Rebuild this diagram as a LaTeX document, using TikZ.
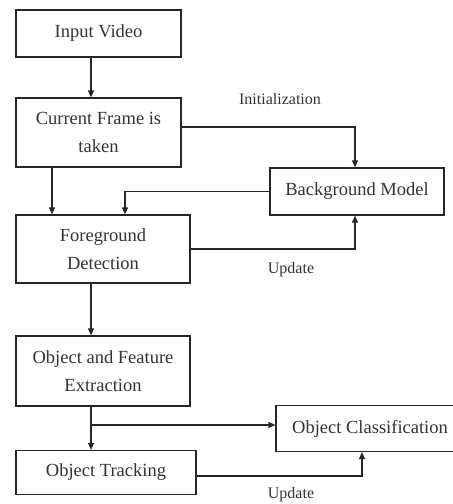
\documentclass[tikz,border=0pt]{standalone}
\usepackage{fontspec}
\setmainfont{Liberation Serif}
\usetikzlibrary{arrows.meta}
\begin{document}
\begin{tikzpicture}[x=1pt,y=-1pt,
  box/.style={draw=black!85,line width=1.2pt,minimum width=#1,inner sep=0pt,align=center,
    font=\fontsize{18.5}{28}\selectfont,text=black!80},
  lbl/.style={font=\fontsize{16}{18}\selectfont,text=black!80},
  arr/.style={draw=black!85,line width=1.2pt,-{Triangle[length=7pt,width=6pt]}}]
\useasboundingbox (0,0) rectangle (453,504);
\node[box=165pt,minimum height=47pt] (iv) at (98.5,33.5) {Input Video};
\node[box=165pt,minimum height=69pt] (cf) at (98.5,132.5) {Current Frame is\\taken};
\node[box=174pt,minimum height=47pt] (bm) at (357,191.5) {Background Model};
\node[box=174pt,minimum height=68pt] (fg) at (103,249) {Foreground\\Detection};
\node[box=174pt,minimum height=70pt] (of) at (103,371) {Object and Feature\\Extraction};
\node[box=188pt,minimum height=46pt] (oc) at (370,428.5) {Object Classification};
\node[box=180pt,minimum height=44pt] (ot) at (106,472.5) {Object Tracking};
\node[lbl] (init) at (280,99) {Initialization};
\node[lbl] (up1) at (291,270) {Update};
\node[lbl] (up2) at (291,495) {Update};
\draw[arr] ([xshift=-7.5pt]iv.south) -- ([xshift=-7.5pt]cf.north);
\draw[arr] ([yshift=5.5pt]cf.east) -| ([xshift=-2pt]bm.north);
\draw[arr] ([xshift=-46.5pt]cf.south) -- ([xshift=-46.5pt]cf.south |- fg.north);
\draw[arr] (bm.west) -| ([xshift=22pt]fg.north);
\draw[arr] (fg.east) -| ([xshift=-2pt]bm.south);
\draw[arr] ([xshift=-12pt]fg.south) -- ([xshift=-12pt]of.north);
\draw[arr] ([xshift=-12pt]of.south) -- ([xshift=-12pt]of.south |- ot.north);
\coordinate (br) at (91,425);
\draw[arr] (br) -- (br -| oc.west);
\draw[arr] ([yshift=-3.5pt]ot.east) -| ([xshift=-8pt]oc.south);
\end{tikzpicture}
\end{document}
